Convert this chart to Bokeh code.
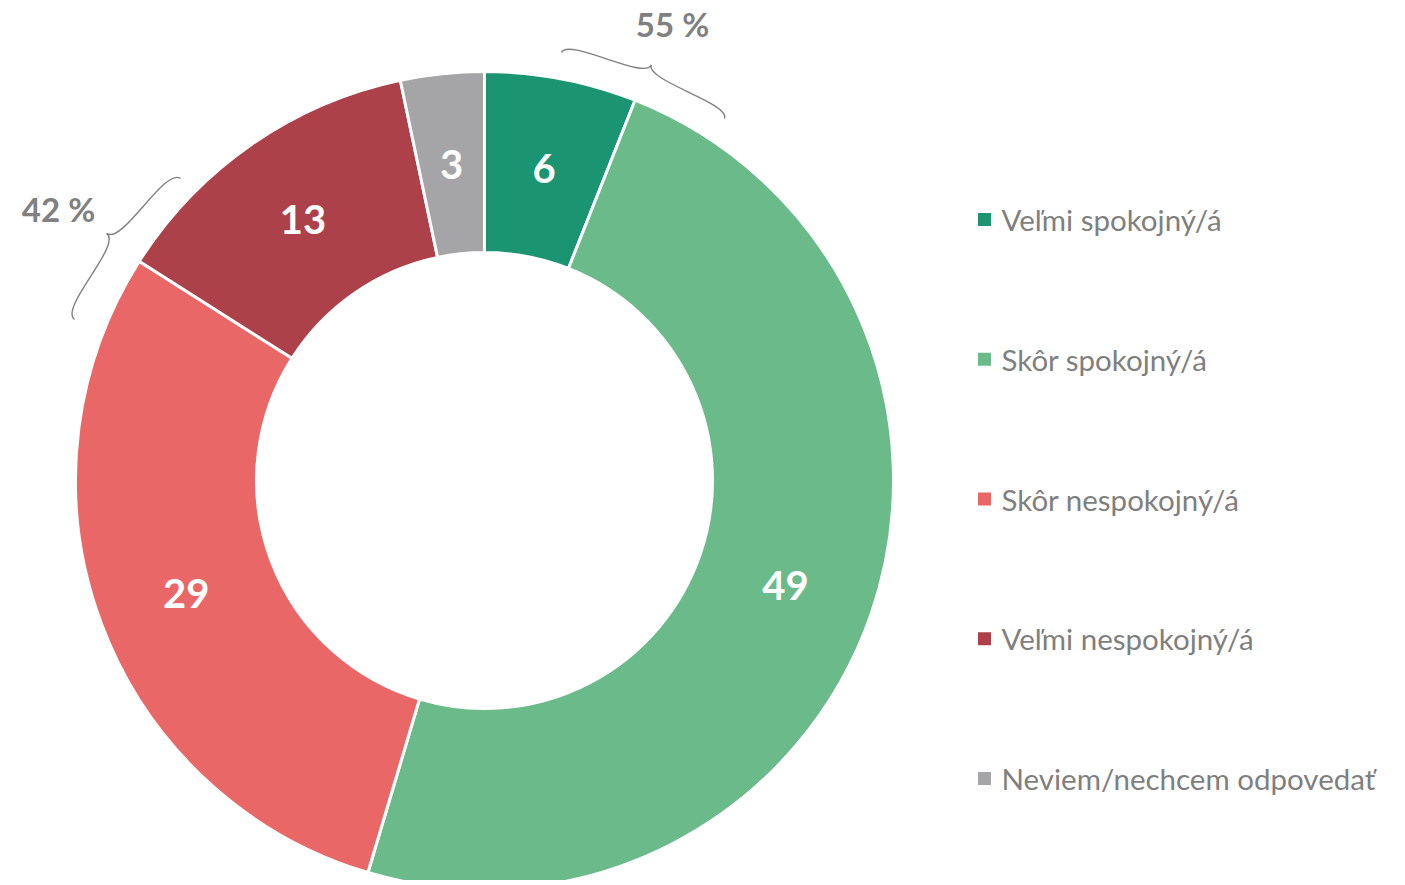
import numpy as np
from bokeh.plotting import figure
from bokeh.models import Range1d, ColumnDataSource
from bokeh.core.properties import value
from bokeh.embed import file_html
from bokeh.resources import INLINE

categories = ["Veľmi spokojný/á", "Skôr spokojný/á", "Skôr nespokojný/á",
              "Veľmi nespokojný/á", "Neviem/nechcem odpovedať"]
values = [6.0, 48.6, 29.4, 12.7, 3.3]
labels = ["6", "49", "29", "13", "3"]
colors = ["#1B9571", "#6BBA8A", "#E96767", "#AD4149", "#A5A5A7"]
group_labels = ["55 %", "42 %"]

W, H = 1400, 880
p = figure(width=W, height=H, output_backend="svg", toolbar_location=None,
           x_range=Range1d(0, W), y_range=Range1d(-H, 0),
           min_border=0, outline_line_color=None)
p.axis.visible = False
p.grid.visible = False
p.background_fill_color = "white"

cx, cy = 484, -480
r_in, r_out = 228, 409

vals = np.array(values, dtype=float)
frac = vals / vals.sum()
cum = np.concatenate([[0], np.cumsum(frac)])
start = np.pi / 2 - cum[:-1] * 2 * np.pi
end = np.pi / 2 - cum[1:] * 2 * np.pi
mid = (start + end) / 2
rm = (r_in + r_out) / 2

src = ColumnDataSource(dict(start=start, end=end, color=colors,
                            lx=cx + rm * np.cos(mid), ly=cy + rm * np.sin(mid) - 1,
                            lab=labels))
p.annular_wedge(x=cx, y=cy, inner_radius=r_in, outer_radius=r_out,
                start_angle="start", end_angle="end", direction="clock",
                fill_color="color", line_color="white", line_width=3, source=src)
p.text(x="lx", y="ly", text="lab", source=src, text_color="white",
       text_font=value("Lato"), text_font_style="bold", text_font_size="40px",
       text_align="center", text_baseline="middle")

# legend
ly = -(219 + np.arange(len(categories)) * 139.75)
lsrc = ColumnDataSource(dict(x=[984] * len(categories), y=ly, color=colors,
                             tx=[1001] * len(categories), cat=categories))
p.scatter(x="x", y="y", marker="square", size=13, fill_color="color",
          line_color=None, source=lsrc)
p.text(x="tx", y="y", text="cat", source=lsrc, text_color="#7F7F7F",
       text_font=value("Lato"), text_font_size="29.5px",
       text_align="left", text_baseline="middle")


def brace(A, B, h, n_sign=1):
    A = np.array(A, float); B = np.array(B, float)
    u = B - A
    L = np.linalg.norm(u)
    u = u / L
    n = np.array([-u[1], u[0]]) * n_sign
    def pt(t, s):
        q = A + u * t * L + n * s * h
        return q[0], -q[1]
    segs = [
        [pt(0, 0), pt(0, 0.75), pt(0.5, 0.25), pt(0.5, 1.0)],
        [pt(1, 0), pt(1, 0.75), pt(0.5, 0.25), pt(0.5, 1.0)],
    ]
    return segs

braces = brace((561, 52), (724, 118), 22, n_sign=-1) + brace((180, 178), (74, 319), 26, n_sign=1)
bs = ColumnDataSource(dict(
    x0=[s[0][0] for s in braces], y0=[s[0][1] for s in braces],
    cx0=[s[1][0] for s in braces], cy0=[s[1][1] for s in braces],
    cx1=[s[2][0] for s in braces], cy1=[s[2][1] for s in braces],
    x1=[s[3][0] for s in braces], y1=[s[3][1] for s in braces]))
p.bezier(x0="x0", y0="y0", x1="x1", y1="y1", cx0="cx0", cy0="cy0",
         cx1="cx1", cy1="cy1", source=bs, line_color="#808080", line_width=1.4)

p.text(x=[672, 58], y=[-23, -208], text=group_labels, text_color="#808080",
       text_font=value("Lato"), text_font_style="bold", text_font_size="33px",
       text_align="center", text_baseline="middle")

open("out.html", "w").write(file_html(p, INLINE))
